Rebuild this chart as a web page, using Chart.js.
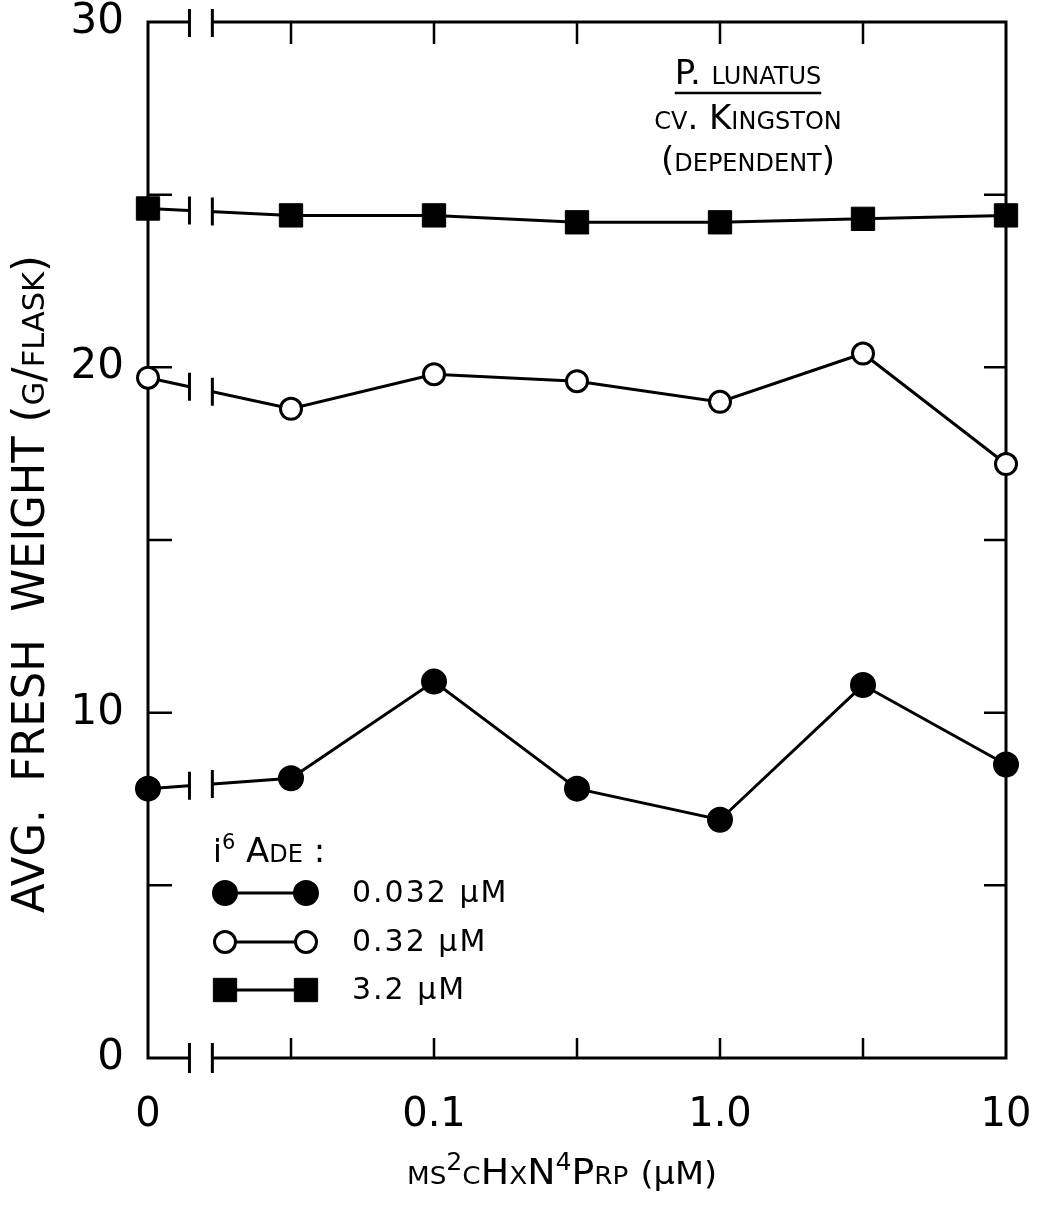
<!DOCTYPE html>
<html>
<head>
<meta charset="utf-8">
<script src="https://cdn.jsdelivr.net/npm/chart.js@4.4.0/dist/chart.umd.min.js"></script>
<style>
body { margin: 0; background: #fff; }
#wrap { width: 1044px; height: 1213px; }
</style>
</head>
<body>
<div id="wrap"><canvas id="freshweight"></canvas></div>
<script>
// ms2cHxN4Prp concentration (uM), plotted at equal half-decade steps
var concentrations = ['0', '0.032', '0.1', '0.32', '1.0', '3.2', '10'];
var shownConc = ['0', '0.1', '1.0', '10'];
var yTickLabels = [0, 10, 20, 30];
var yMinorStep = 5;

// avg fresh weight (g/flask), one list per i6Ade level
var ade0032 = [7.8, 8.1, 10.9, 7.8, 6.9, 10.8, 8.5];
var ade032 = [19.7, 18.8, 19.8, 19.6, 19.0, 20.4, 17.2];
var ade32 = [24.6, 24.4, 24.4, 24.2, 24.2, 24.3, 24.4];

var seriesNames = ['0.032 µM', '0.32 µM', '3.2 µM'];
var noteLines = ['P. lunatus', 'cv. Kingston', '(dependent)'];
var breakAt = [0.29, 0.45]; // axis break between 0 and 0.032

var FONT = '"DejaVu Sans"';

function series(label, data, style, fill, radius, bw) {
  return {
    label: label,
    data: data,
    borderColor: '#000',
    borderWidth: 3,
    pointStyle: style,
    pointRadius: radius,
    pointBorderWidth: bw,
    pointBackgroundColor: fill,
    pointBorderColor: '#000',
    tension: 0
  };
}

// draw a row of text pieces, squeezed to a given width
function drawRuns(ctx, runs, targetWidth) {
  var total = 0;
  runs.forEach(function(r) { ctx.font = r.font; r.w = ctx.measureText(r.t).width; total += r.w; });
  var sx = targetWidth ? targetWidth / total : 1;
  ctx.save();
  ctx.scale(sx, 1);
  var cx = targetWidth ? -total / 2 : 0;
  runs.forEach(function(r) {
    ctx.font = r.font;
    ctx.fillText(r.t, cx, r.dy || 0);
    cx += r.w;
  });
  ctx.restore();
}

function marker(ctx, ds, x, y) {
  ctx.fillStyle = ds.pointBackgroundColor;
  ctx.strokeStyle = ds.pointBorderColor;
  ctx.lineWidth = ds.pointBorderWidth;
  Chart.helpers.drawPoint(ctx, {pointStyle: ds.pointStyle, radius: ds.pointRadius, borderWidth: ds.pointBorderWidth, rotation: 0}, x, y);
}

var paperLines = {
  id: 'paperLines',
  beforeDatasetsDraw: function(chart) {
    var ctx = chart.ctx, a = chart.chartArea, xs = chart.scales.x, ys = chart.scales.y;
    ctx.save();
    ctx.strokeStyle = '#000';
    ctx.lineWidth = 3;
    ctx.beginPath();
    ctx.moveTo(a.left, a.top);
    ctx.lineTo(a.right, a.top);
    ctx.lineTo(a.right, a.bottom);
    ctx.lineTo(a.left, a.bottom);
    ctx.closePath();
    ctx.stroke();

    ctx.lineWidth = 2.5;
    ctx.beginPath();
    for (var i = 1; i < concentrations.length - 1; i++) {
      var px = xs.getPixelForValue(i);
      ctx.moveTo(px, a.top); ctx.lineTo(px, a.top + 22);
      ctx.moveTo(px, a.bottom); ctx.lineTo(px, a.bottom - 20);
    }
    for (var v = yMinorStep; v < ys.max; v += yMinorStep) {
      var py = ys.getPixelForValue(v);
      ctx.moveTo(a.left, py); ctx.lineTo(a.left + 24, py);
      ctx.moveTo(a.right, py); ctx.lineTo(a.right - 22, py);
    }
    ctx.stroke();
    ctx.restore();
  },
  afterDatasetsDraw: function(chart) {
    var ctx = chart.ctx, a = chart.chartArea, xs = chart.scales.x;
    var b0 = xs.getPixelForValue(breakAt[0]), b1 = xs.getPixelForValue(breakAt[1]);
    ctx.save();
    // gap for the axis break
    ctx.fillStyle = '#fff';
    ctx.fillRect(b0, a.top - 4, b1 - b0, a.bottom - a.top + 8);

    ctx.strokeStyle = '#000';
    ctx.lineWidth = 3;
    ctx.beginPath();
    [b0, b1].forEach(function(bx) {
      ctx.moveTo(bx, a.top - 13); ctx.lineTo(bx, a.top + 15);
      ctx.moveTo(bx, a.bottom - 15); ctx.lineTo(bx, a.bottom + 15);
    });
    chart.data.datasets.forEach(function(ds, k) {
      var pts = chart.getDatasetMeta(k).data;
      var p0 = pts[0], p1 = pts[1];
      [b0, b1].forEach(function(bx) {
        var by = p0.y + (p1.y - p0.y) * (bx - p0.x) / (p1.x - p0.x);
        ctx.moveTo(bx, by - 14); ctx.lineTo(bx, by + 14);
      });
    });
    ctx.stroke();

    // legend
    ctx.fillStyle = '#000';
    ctx.textBaseline = 'alphabetic';
    ctx.save();
    ctx.translate(213, 862);
    drawRuns(ctx, [
      {t: 'i', font: '32px ' + FONT},
      {t: '6', font: '21px ' + FONT, dy: -13},
      {t: ' Ade :', font: 'small-caps 34px ' + FONT}
    ]);
    ctx.restore();
    var rows = [893, 942, 990];
    chart.data.datasets.forEach(function(ds, k) {
      var y = rows[k];
      ctx.strokeStyle = '#000';
      ctx.lineWidth = 3;
      ctx.beginPath();
      ctx.moveTo(225, y); ctx.lineTo(306, y);
      ctx.stroke();
      marker(ctx, ds, 225, y);
      marker(ctx, ds, 306, y);
      ctx.fillStyle = '#000';
      ctx.font = '30px ' + FONT;
      ctx.letterSpacing = '2px';
      ctx.textBaseline = 'middle';
      ctx.fillText(ds.label, 352, y + 1);
      ctx.letterSpacing = '0px';
    });

    // note in the top right
    ctx.textAlign = 'center';
    ctx.textBaseline = 'alphabetic';
    ctx.font = 'small-caps 34px ' + FONT;
    var noteY = [84, 129, 171];
    noteLines.forEach(function(t, i) { ctx.fillText(t, 748, noteY[i]); });
    var w = ctx.measureText(noteLines[0]).width;
    ctx.lineWidth = 2.5;
    ctx.beginPath();
    ctx.moveTo(748 - w / 2, 93); ctx.lineTo(748 + w / 2, 93);
    ctx.stroke();
    ctx.textAlign = 'left';

    // axis titles
    ctx.save();
    ctx.translate(562, 1184);
    drawRuns(ctx, [
      {t: 'ms', font: 'small-caps 36px ' + FONT},
      {t: '2', font: '24px ' + FONT, dy: -14},
      {t: 'cHxN', font: 'small-caps 36px ' + FONT},
      {t: '4', font: '24px ' + FONT, dy: -14},
      {t: 'Prp ', font: 'small-caps 36px ' + FONT},
      {t: '(µM)', font: '32px ' + FONT}
    ], 310);
    ctx.restore();

    ctx.save();
    ctx.translate(33, 584);
    ctx.rotate(-Math.PI / 2);
    ctx.textBaseline = 'middle';
    drawRuns(ctx, [
      {t: 'AVG.  FRESH  WEIGHT ', font: 'small-caps 44px ' + FONT},
      {t: '(g/flask)', font: 'small-caps 44px ' + FONT}
    ], 658);
    ctx.restore();

    ctx.restore();
  }
};

var ctx = document.getElementById('freshweight').getContext('2d');
var config = {
  type: 'line',
  data: {
    labels: concentrations,
    datasets: [
      series(seriesNames[0], ade0032, 'circle', '#000', 12, 2),
      series(seriesNames[1], ade032, 'circle', '#fff', 10.5, 3),
      series(seriesNames[2], ade32, 'rect', '#000', 16.5, 1)
    ]
  },
  options: {
    responsive: true,
    maintainAspectRatio: false,
    animation: false,
    events: [],
    layout: { padding: { top: 22, right: 38, left: 0, bottom: 0 } },
    plugins: { legend: { display: false }, tooltip: { enabled: false } },
    scales: {
      x: {
        type: 'category',
        offset: false,
        afterFit: function(s) { s.height = 155; s.paddingLeft = 0; s.paddingRight = 0; },
        grid: { display: false, drawTicks: false },
        border: { display: false },
        ticks: {
          autoSkip: false,
          maxRotation: 0,
          padding: 34,
          color: '#000',
          font: { family: FONT, size: 40 },
          callback: function(v, i) {
            var c = concentrations[i];
            return shownConc.indexOf(c) >= 0 ? c : '';
          }
        }
      },
      y: {
        min: 0,
        max: 30,
        afterFit: function(s) { s.width = 148; s.paddingTop = 0; s.paddingBottom = 0; },
        grid: { display: false, drawTicks: false },
        border: { display: false },
        ticks: {
          stepSize: 10,
          padding: 24,
          color: '#000',
          font: { family: FONT, size: 42 },
          callback: function(v) { return yTickLabels.indexOf(v) >= 0 ? String(v) : ''; }
        }
      }
    }
  },
  plugins: [paperLines]
};
window.myLine = new Chart(ctx, config);
</script>
</body>
</html>
